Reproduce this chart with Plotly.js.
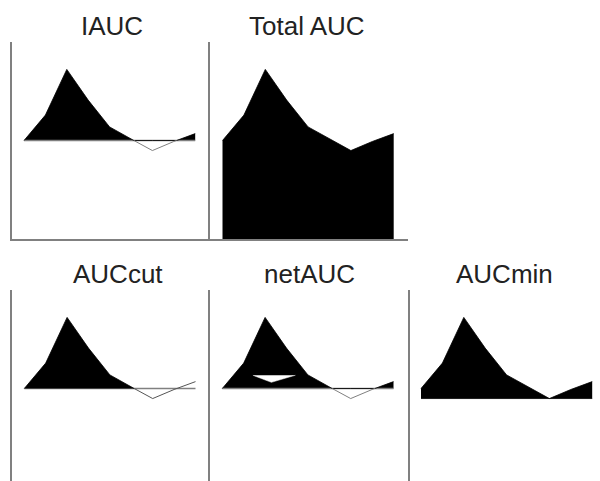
<!DOCTYPE html>
<html><head><meta charset="utf-8">
<script src="https://cdn.plot.ly/plotly-3.0.1.min.js"></script>
<style>html,body{margin:0;padding:0;background:#fff}#chart{width:600px;height:481px}</style>
</head><body><div id="chart"></div>
<script>
// ---- data ----
const times = [0, 15, 30, 45, 60, 75, 90, 105, 120];
const glucose = [5.0, 6.29, 8.61, 7.05, 5.69, 5.08, 4.49, 4.95, 5.35];
const panelTitles = ['IAUC', 'Total AUC', 'AUCcut', 'netAUC', 'AUCmin'];

// ---- layout constants ----
const W = 600, H = 481;
const BLACK = '#000', GRAY = '#808080';
const MIN_PER_PX = 15 / 21.4;
const base = glucose[0];
const gmin = Math.min(...glucose);

// panel geometry in pixels: L, R (x domain), T, B (y domain), p0 = pixel of t=0
const panels = [
  {L: 11.5, R: 207.5, T: 42, B: 239, p0: 24.0, yr: [0, 10], xline: true, yline: 'mirror'},
  {L: 209.5, R: 407.5, T: 42, B: 239, p0: 222.5, yr: [0, 10], xline: true, yline: null},
  {L: 11.5, R: 207.5, T: 290, B: 481, p0: 24.3, yr: [6 / 19.7, 10], xline: false, yline: 'mirror'},
  {L: 209.5, R: 407.5, T: 290, B: 481, p0: 222.3, yr: [6 / 19.7, 10], xline: false, yline: 'right'},
  {L: 409.5, R: 600, T: 290, B: 481, p0: 421.0, yr: [6 / 19.7, 10], xline: false, yline: null}
];
const titlePos = [[112, 25.5], [306.5, 25.5], [117.5, 273.5], [309, 273.5], [504, 273.5]];

// polyline with the baseline crossings added
function withCrossings(xs, ys, b) {
  const ox = [], oy = [];
  for (let i = 0; i < xs.length; i++) {
    if (i > 0) {
      const d0 = ys[i - 1] - b, d1 = ys[i] - b;
      if (d0 * d1 < 0) {
        const t = d0 / (d0 - d1);
        ox.push(xs[i - 1] + t * (xs[i] - xs[i - 1]));
        oy.push(b);
      }
    }
    ox.push(xs[i]); oy.push(ys[i]);
  }
  return {x: ox, y: oy};
}
const aug = withCrossings(times, glucose, base);
const posY = aug.y.map(v => Math.max(v, base));
const c1 = aug.y.findIndex((v, i) => i > 0 && v === base);
const c2 = aug.y.findIndex((v, i) => i > c1 && v === base);
const negX = aug.x.slice(c1, c2 + 1), negY = aug.y.slice(c1, c2 + 1);
// negative area shown as a hole inside the positive area (netAUC)
const HOLE_DX = -55.6, HOLE_LIFT = 0.67, HOLE_SCALE = 0.7;
const holeX = negX.map(x => x + HOLE_DX);
const holeY = negY.map(y => base + HOLE_LIFT - (base - y) * HOLE_SCALE);

const tEnds = [times[0], times[times.length - 1]];
function ax(i) { return i === 0 ? '' : String(i + 1); }
const traces = [];
function add(i, t) { t.xaxis = 'x' + ax(i); t.yaxis = 'y' + ax(i); t.mode = 'lines'; t.hoverinfo = 'skip'; t.showlegend = false; traces.push(t); }
function baseline(i) { add(i, {x: tEnds, y: [base, base], line: {color: GRAY, width: 1.6}}); }

// 1 iAUC
baseline(0);
add(0, {x: aug.x, y: posY, fill: 'tonexty', fillcolor: BLACK, line: {color: BLACK, width: 0.8}});
add(0, {x: negX, y: negY, line: {color: GRAY, width: 1}});
// 2 Total AUC
add(1, {x: times, y: glucose, fill: 'tozeroy', fillcolor: BLACK, line: {color: BLACK, width: 0.8}});
// 3 AUCcut
baseline(2);
add(2, {x: aug.x.slice(0, c1 + 1), y: aug.y.slice(0, c1 + 1), fill: 'toself', fillcolor: BLACK, line: {color: BLACK, width: 0.8}});
add(2, {x: aug.x.slice(c1), y: aug.y.slice(c1), line: {color: '#555', width: 1}});
// 4 netAUC
baseline(3);
add(3, {x: aug.x, y: posY, fill: 'tonexty', fillcolor: BLACK, line: {color: BLACK, width: 0.8}});
add(3, {x: negX, y: negY, line: {color: GRAY, width: 1}});
add(3, {x: holeX, y: holeY, fill: 'toself', fillcolor: '#fff', line: {color: '#fff', width: 0.5}});
// 5 AUCmin
add(4, {x: tEnds, y: [gmin, gmin], line: {color: BLACK, width: 0.8}});
add(4, {x: times, y: glucose, fill: 'tonexty', fillcolor: BLACK, line: {color: BLACK, width: 0.8}});

const layout = {
  width: W, height: H, margin: {l: 0, r: 0, t: 0, b: 0},
  paper_bgcolor: '#fff', plot_bgcolor: 'rgba(0,0,0,0)', showlegend: false,
  annotations: panelTitles.map((t, i) => ({
    text: t, xref: 'paper', yref: 'paper', x: titlePos[i][0] / W, y: 1 - titlePos[i][1] / H,
    xanchor: 'center', yanchor: 'middle', showarrow: false,
    font: {family: 'Liberation Sans, Arial, sans-serif', size: 26, color: '#222'}
  }))
};
panels.forEach((p, i) => {
  const k = ax(i);
  layout['xaxis' + k] = {
    domain: [p.L / W, p.R / W], range: [(p.L - p.p0) * MIN_PER_PX, (p.R - p.p0) * MIN_PER_PX],
    anchor: 'y' + k, showgrid: false, zeroline: false, showticklabels: false, ticks: '',
    showline: p.xline, linecolor: GRAY, linewidth: 2, fixedrange: true
  };
  layout['yaxis' + k] = {
    domain: [1 - p.B / H, 1 - p.T / H], range: p.yr,
    anchor: 'x' + k, showgrid: false, zeroline: false, showticklabels: false, ticks: '',
    showline: !!p.yline, mirror: p.yline === 'mirror', side: p.yline === 'right' ? 'right' : 'left',
    linecolor: GRAY, linewidth: 2, fixedrange: true
  };
});

Plotly.newPlot('chart', traces, layout, {staticPlot: true, displayModeBar: false});
</script>
</body></html>
